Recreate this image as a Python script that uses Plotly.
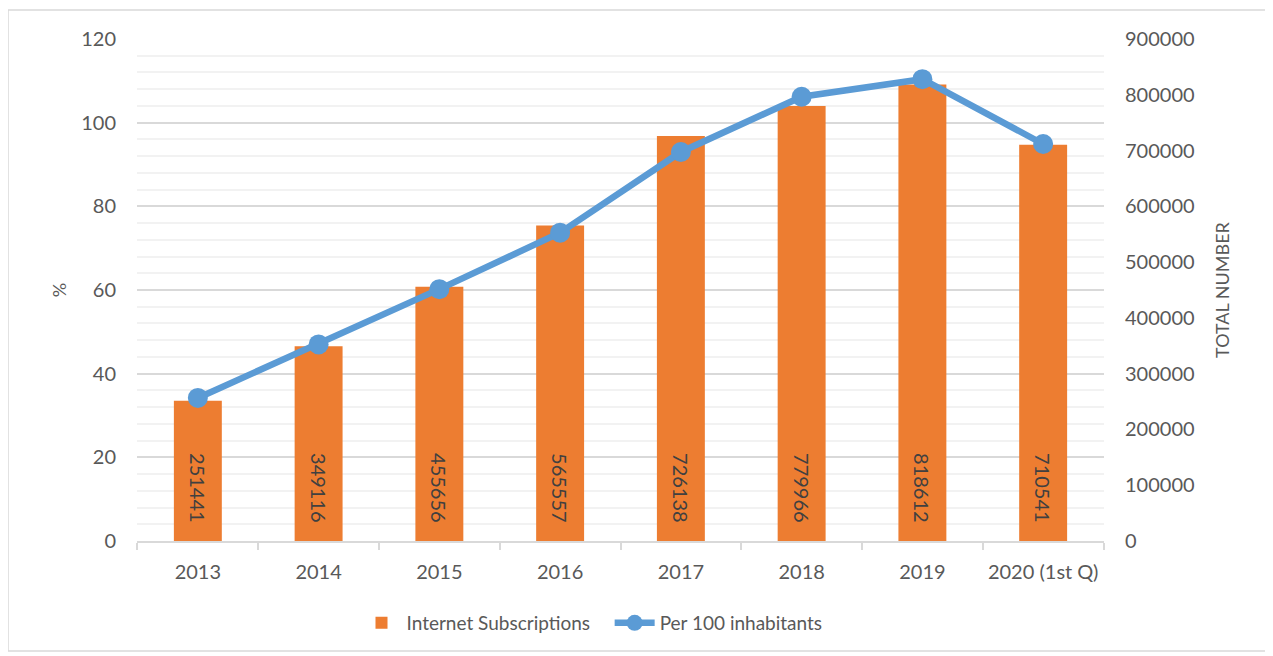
import plotly.graph_objects as go

categories = ["2013", "2014", "2015", "2016", "2017", "2018", "2019", "2020 (1st Q)"]
subscriptions = [251441, 349116, 455656, 565557, 726138, 779966, 818612, 710541]
per_100 = [34.2, 47.0, 60.2, 73.7, 93.0, 106.2, 110.4, 94.9]

FONT = "Lato"
TICK_COLOR = "#595959"
ORANGE = "#ED7D31"
BLUE = "#5B9BD5"

# page body has an 8px offset
OFF = 8
W, H = 1273, 656
ML, MT = 137 - OFF, 39 - OFF
PW, PH = 967, 502
MR = W - ML - PW
MB = H - MT - PH


def px_x(sx):
    return (sx - OFF - ML) / PW


def px_y(sy):
    return (MT + PH - (sy - OFF)) / PH


fig = go.Figure()

fig.add_trace(go.Bar(
    x=categories, y=subscriptions, name="Internet Subscriptions\u00a0\u00a0\u00a0",
    marker=dict(color=ORANGE, line=dict(width=0)),
    text=[f"{v}" + "\u00a0" * 3 for v in subscriptions],
    textposition="inside", insidetextanchor="start", textangle=90,
    constraintext="none",
    textfont=dict(family=FONT, size=20, color="#404040"),
    yaxis="y", cliponaxis=False,
))

fig.add_trace(go.Scatter(
    x=categories, y=per_100, name="Per 100 inhabitants",
    mode="lines+markers",
    line=dict(color=BLUE, width=6.5),
    marker=dict(color=BLUE, size=20),
    yaxis="y2",
))

fig.update_layout(
    width=W, height=H,
    margin=dict(l=ML, r=MR, t=MT, b=MB),
    paper_bgcolor="white", plot_bgcolor="white",
    font=dict(family=FONT, size=20, color=TICK_COLOR),
    bargap=0.603,
    showlegend=True,
    legend=dict(orientation="h", x=px_x(592), xanchor="center",
                y=px_y(623), yanchor="middle",
                font=dict(family=FONT, size=19, color=TICK_COLOR),
                itemwidth=40, traceorder="normal"),
    xaxis=dict(
        showline=True, linecolor="#D9D9D9", linewidth=1.5,
        ticks="outside", tickson="boundaries", ticklen=7, tickcolor="#D9D9D9",
        tickwidth=1.5, showgrid=False,
        tickfont=dict(family=FONT, size=20, color=TICK_COLOR),
        ticklabelstandoff=12,
    ),
    yaxis=dict(
        side="right", range=[0, 900000], dtick=100000, tickformat="d",
        showgrid=False, zeroline=False, showline=False,
        tickfont=dict(family=FONT, size=20, color=TICK_COLOR),
        ticklabelstandoff=20,
        title=dict(text="TOTAL NUMBER", font=dict(family=FONT, size=18, color=TICK_COLOR), standoff=22),
    ),
    yaxis2=dict(
        overlaying="y", side="left", range=[0, 120], dtick=20,
        showgrid=True, gridcolor="#D9D9D9", gridwidth=1.5,
        zeroline=False, showline=False,
        minor=dict(dtick=4, showgrid=True, gridcolor="#F2F2F2", gridwidth=1.5),
        tickfont=dict(family=FONT, size=20, color=TICK_COLOR),
        ticklabelstandoff=20,
        title=dict(text="%", font=dict(family=FONT, size=18, color=TICK_COLOR), standoff=9),
    ),
    shapes=[dict(
        type="rect", xref="paper", yref="paper",
        x0=px_x(8), x1=px_x(1269),
        y0=px_y(651), y1=px_y(10),
        line=dict(color="#D9D9D9", width=1.5), fillcolor="rgba(0,0,0,0)",
        layer="below",
    )],
)

fig.write_html("out.html")
